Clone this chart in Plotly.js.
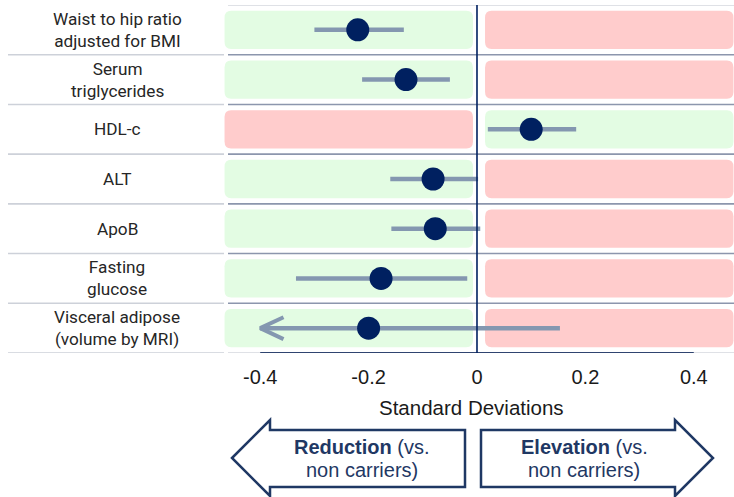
<!DOCTYPE html>
<html>
<head>
<meta charset="utf-8">
<script src="https://cdn.plot.ly/plotly-3.0.1.min.js"></script>
<style>
  html, body { margin: 0; padding: 0; background: #ffffff; }
  #chart { width: 734px; height: 497px; }
</style>
</head>
<body>
<div id="chart"></div>
<script>
// ---- Data ----
const categories = [
  "Waist to hip ratio<br>adjusted for BMI",
  "Serum<br>triglycerides",
  "HDL-c",
  "ALT",
  "ApoB",
  "Fasting<br>glucose",
  "Visceral adipose<br>(volume by MRI)"
];
const estimates = [-0.220, -0.131, 0.100, -0.081, -0.077, -0.177, -0.200];
const ciLower   = [-0.300, -0.212, 0.020, -0.160, -0.158, -0.334, -0.400];
const ciUpper   = [-0.135, -0.050, 0.183, 0.002, 0.006, -0.018, 0.153];
const lowerTruncated = [false, false, false, false, false, false, true];
const favorableDirection = ["lower", "lower", "higher", "lower", "lower", "lower", "lower"];
const tickValues = [-0.4, -0.2, 0, 0.2, 0.4];
const tickLabels = ["-0.4", "-0.2", "0", "0.2", "0.4"];
const axisTitle = "Standard Deviations";
const arrowLabels = {
  left:  ["<b>Reduction</b> (vs.", "non carriers)"],
  right: ["<b>Elevation</b> (vs.", "non carriers)"]
};

// ---- Styling ----
const NAVY = "#002060";
const ARROW_NAVY = "#1F3864";
const CI_COLOR = "#8497B0";
const GREEN = "#E3FCE3";
const RED = "#FFCCCC";
const xRange = [-0.4668, 0.4742];
const n = categories.length;
const W = 734, H = 497, ML = 224, MR = 0, MT = 5, MB = 144;
const plotW = W - ML - MR, plotH = H - MT - MB;
const pxX = px => (px - ML) / plotW;          // pixel -> paper x
const pxY = py => (H - MB - py) / plotH;      // pixel -> paper y
const SANS = "'Liberation Sans', Arial, sans-serif";

const yIdx = categories.map((_, i) => i);

// CI lines
const ciX = [], ciY = [];
yIdx.forEach(i => { ciX.push(ciLower[i], ciUpper[i], null); ciY.push(i, i, null); });
const ciTrace = {
  x: ciX, y: ciY, mode: "lines", type: "scatter",
  line: { color: CI_COLOR, width: 4.5 }, hoverinfo: "skip", showlegend: false
};

// chevrons for truncated lower bounds
const chX = [], chY = [];
yIdx.forEach(i => {
  if (lowerTruncated[i]) {
    chX.push(ciLower[i] + 0.043, ciLower[i], ciLower[i] + 0.043, null);
    chY.push(i - 0.22, i, i + 0.22, null);
  }
});
const chevronTrace = {
  x: chX, y: chY, mode: "lines", type: "scatter",
  line: { color: CI_COLOR, width: 4 }, hoverinfo: "skip", showlegend: false
};

const pointTrace = {
  x: estimates, y: yIdx, mode: "markers", type: "scatter",
  marker: { color: NAVY, size: 23 }, showlegend: false, hoverinfo: "skip"
};

// ---- Shapes ----
function roundRect(x0, x1, y0, y1, rx, ry) {
  return `M${x0 + rx},${y0} L${x1 - rx},${y0} Q${x1},${y0} ${x1},${y0 + ry} ` +
         `L${x1},${y1 - ry} Q${x1},${y1} ${x1 - rx},${y1} L${x0 + rx},${y1} ` +
         `Q${x0},${y1} ${x0},${y1 - ry} L${x0},${y0 + ry} Q${x0},${y0} ${x0 + rx},${y0} Z`;
}
const shapes = [];
const half = 0.385, rx = 0.012, ry = 0.14;
yIdx.forEach(i => {
  const leftGood = favorableDirection[i] === "lower";
  shapes.push({
    type: "path", xref: "x", yref: "y", layer: "below", line: { width: 0 },
    fillcolor: leftGood ? GREEN : RED,
    path: roundRect(xRange[0] + 0.001, -0.0074, i - half, i + half, rx, ry)
  });
  shapes.push({
    type: "path", xref: "x", yref: "y", layer: "below", line: { width: 0 },
    fillcolor: leftGood ? RED : GREEN,
    path: roundRect(0.0148, xRange[1] - 0.001, i - half, i + half, rx, ry)
  });
});
// separators
for (let k = 0; k <= n; k++) {
  const yb = k - 0.5;
  const isEdge = (k === 0 || k === n);
  shapes.push({
    type: "line", xref: "paper", yref: "y", x0: pxX(228), x1: 1, y0: yb, y1: yb,
    line: { color: isEdge ? "#D4D7DE" : "#8C96AD", width: 1.6 }, layer: "above"
  });
  if (k > 0) {
    shapes.push({
      type: "line", xref: "paper", yref: "y", x0: pxX(8), x1: pxX(224), y0: yb, y1: yb,
      line: { color: "#CDD1D9", width: 1.6 }, layer: "above"
    });
  }
}
// axis line segment from first to last tick
shapes.push({
  type: "line", xref: "x", yref: "y", x0: tickValues[0], x1: tickValues[tickValues.length - 1],
  y0: n - 0.5, y1: n - 0.5, line: { color: "#2F4470", width: 2 }, layer: "above"
});
// zero line
shapes.push({
  type: "line", xref: "x", yref: "paper", x0: 0, x1: 0, y0: 0, y1: 1,
  line: { color: NAVY, width: 1.6 }, layer: "above"
});
// big direction arrows
function polyPath(pts) {
  return pts.map((p, j) => (j ? "L" : "M") + pxX(p[0]) + "," + pxY(p[1])).join(" ") + " Z";
}
shapes.push({
  type: "path", xref: "paper", yref: "paper", fillcolor: "#ffffff",
  line: { color: ARROW_NAVY, width: 2.5 },
  path: polyPath([[232, 458], [270, 420], [270, 430], [465, 430], [465, 487], [270, 487], [270, 496]])
});
shapes.push({
  type: "path", xref: "paper", yref: "paper", fillcolor: "#ffffff",
  line: { color: ARROW_NAVY, width: 2.5 },
  path: polyPath([[481, 430], [675, 430], [675, 420], [713, 458], [675, 496], [675, 487], [481, 487]])
});

// ---- Annotations ----
const annotations = [];
yIdx.forEach(i => {
  annotations.push({
    xref: "paper", yref: "y", x: pxX(117), y: i, xanchor: "center", yanchor: "middle",
    text: categories[i], showarrow: false, align: "center",
    font: { family: "Roboto, 'Noto Sans', sans-serif", size: 17.2, color: "#262626" }
  });
});
// axis title
annotations.push({
  xref: "paper", yref: "paper", x: pxX(471), y: pxY(407), xanchor: "center", yanchor: "middle",
  text: axisTitle, showarrow: false,
  font: { family: SANS, size: 20.5, color: "#1a1a1a" }
});
const arrowFont = { family: SANS, size: 20, color: ARROW_NAVY };
[["left", 362], ["right", 584]].forEach(([side, cx]) => {
  arrowLabels[side].forEach((t, j) => {
    annotations.push({
      xref: "paper", yref: "paper", x: pxX(cx), y: pxY(447 + j * 23),
      xanchor: "center", yanchor: "middle", text: t, showarrow: false, font: arrowFont
    });
  });
});

const layout = {
  width: W, height: H,
  margin: { l: ML, r: MR, t: MT, b: MB, pad: 0 },
  paper_bgcolor: "#ffffff", plot_bgcolor: "#ffffff",
  showlegend: false, hovermode: false,
  xaxis: {
    range: xRange, tickvals: tickValues, ticktext: tickLabels,
    showgrid: false, zeroline: false, showline: false,
    ticks: "outside", ticklen: 6, tickcolor: "rgba(0,0,0,0)",
    tickfont: { family: SANS, size: 20, color: "#1a1a1a" },
    fixedrange: true
  },
  yaxis: {
    range: [n - 0.5, -0.5], showgrid: false, zeroline: false, showline: false,
    showticklabels: false, ticks: "", fixedrange: true
  },
  shapes: shapes,
  annotations: annotations
};

Plotly.newPlot("chart", [ciTrace, chevronTrace, pointTrace], layout, { displayModeBar: false, staticPlot: true });
</script>
</body>
</html>
